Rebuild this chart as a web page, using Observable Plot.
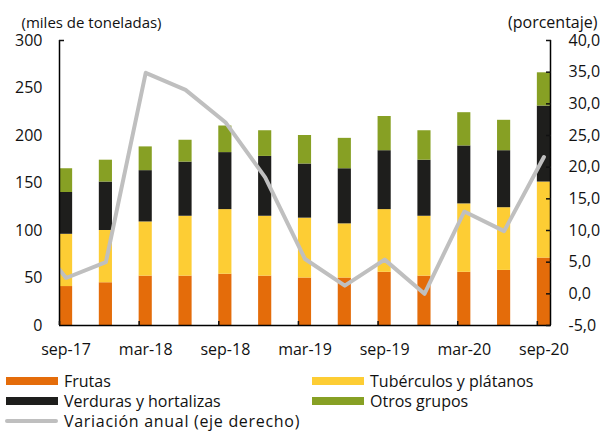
<!DOCTYPE html>
<html>
<head>
<meta charset="utf-8">
<script src="https://cdn.jsdelivr.net/npm/d3@7"></script>
<script src="https://cdn.jsdelivr.net/npm/@observablehq/plot@0.6"></script>
<style>
  body { margin: 0; background: #fff; font-family: "Open Sans", sans-serif; }
  #wrap { position: relative; width: 609px; height: 433px; overflow: hidden; }
  #legend { position: absolute; left: 0; top: 0; width: 609px; height: 433px; pointer-events: none; }
  .item { position: absolute; height: 18px; display: flex; align-items: center; font-size: 16px; line-height: 18px; color: #111; white-space: nowrap; }
  .sw { width: 52px; height: 8px; margin-right: 6px; }
  .ln { width: 53px; height: 4px; border-radius: 2px; margin-right: 6px; }
  .wide { letter-spacing: 0.7px; }
</style>
</head>
<body>
<div id="wrap"><div id="chart"></div><div id="legend"></div></div>
<script>
const periods = ["sep-17","dic-17","mar-18","jun-18","sep-18","dic-18","mar-19","jun-19","sep-19","dic-19","mar-20","jun-20","sep-20"];
const frutas     = [41, 45, 52, 52, 54, 52, 50, 50, 56, 52, 56, 58, 71];
const tuberculos = [55, 55, 57, 63, 68, 63, 63, 57, 66, 63, 72, 66, 80];
const verduras   = [44, 51, 54, 57, 60, 63, 57, 58, 62, 59, 61, 60, 80];
const otros      = [25, 23, 25, 23, 28, 27, 30, 32, 36, 31, 35, 32, 35];
// annual variation (%), first value (jun-17) lies outside the plotted window
const lineaPeriodos = ["jun-17", ...periods];
const variacion = [10.5, 2.5, 5.0, 34.9, 32.2, 27.1, 18.4, 5.5, 1.3, 5.4, 0.0, 13.0, 9.9, 21.6];
const leftTicks = [0, 50, 100, 150, 200, 250, 300];
const rightTicks = [-5, 0, 5, 10, 15, 20, 25, 30, 35, 40];
const labelPeriods = ["sep-17","mar-18","sep-18","mar-19","sep-19","mar-20","sep-20"];
const seriesNames = ["Frutas", "Tubérculos y plátanos", "Verduras y hortalizas", "Otros grupos"];
const seriesColors = ["#E46C0A", "#FDCD34", "#1E1E1C", "#87A024"];
const lineName = "Variación anual (eje derecho)";
const lineColor = "#BFBFBF";

const seriesValues = [frutas, tuberculos, verduras, otros];
const rows = [];
periods.forEach((p, i) => {
  let base = 0;
  seriesNames.forEach((s, k) => {
    const v = seriesValues[k][i];
    rows.push({i, p, serie: s, y1: base, y2: base + v});
    base += v;
  });
});

const half = 0.165;
const xDomain = [-half, periods.length - 1 + half];
const rMin = -5, rMax = 40, lMax = 300;
const toLeft = v => (v - rMin) * lMax / (rMax - rMin);
const fromLeft = y => y * (rMax - rMin) / lMax + rMin;
const fmt = v => (Math.round(v * 10) / 10).toFixed(1).replace(".", ",");
const lineData = lineaPeriodos.map((p, k) => ({i: k - 1, p, v: variacion[k]}));
const tickIdx = labelPeriods.map(p => periods.indexOf(p));

const chart = Plot.plot({
  width: 609, height: 365,
  marginLeft: 59, marginRight: 59, marginTop: 40, marginBottom: 40,
  style: {fontFamily: "Open Sans, sans-serif", fontSize: "16px", color: "#111", background: "#fff"},
  x: {type: "linear", domain: xDomain, label: null},
  y: {domain: [0, lMax], label: null},
  color: {domain: seriesNames, range: seriesColors},
  marks: [
    Plot.rectY(rows, {x1: d => d.i - half, x2: d => d.i + half, y1: "y1", y2: "y2", fill: "serie"}),
    Plot.line(lineData, {x: "i", y: d => toLeft(d.v), stroke: lineColor, strokeWidth: 4, clip: true}),
    Plot.ruleY([0], {stroke: "#000", strokeWidth: 1.5}),
    Plot.ruleX(xDomain, {y1: 0, y2: lMax, stroke: "#000", strokeWidth: 1.5}),
    Plot.axisY(leftTicks, {anchor: "left", label: null, tickSize: 0, tickPadding: 17, fontSize: 16}),
    Plot.axisY([lMax], {anchor: "left", label: null, tickSize: -5, strokeWidth: 1.5, tickFormat: () => ""}),
    Plot.axisY(rightTicks.map(toLeft), {anchor: "right", label: null, tickSize: -5, strokeWidth: 1.5, tickPadding: 23, fontSize: 16, tickFormat: y => fmt(fromLeft(y))}),
    Plot.axisX(tickIdx.map(i => i - half), {anchor: "bottom", label: null, tickSize: -4, strokeWidth: 1.5, tickFormat: () => ""}),
    Plot.axisX(tickIdx, {anchor: "bottom", label: null, tickSize: 0, tickPadding: 18, fontSize: 16, tickFormat: i => periods[i]}),
    Plot.text(["(miles de toneladas)"], {frameAnchor: "top-left", dx: -38, dy: -23, textAnchor: "start", fontSize: 15, fill: "#111"}),
    Plot.text(["(porcentaje)"], {frameAnchor: "top-right", dx: 47, dy: -24, textAnchor: "end", fontSize: 16, fill: "#111"})
  ]
});
document.getElementById("chart").appendChild(chart);

const legend = document.getElementById("legend");
const items = [
  {name: seriesNames[0], color: seriesColors[0], left: 6, top: 372, type: "sw"},
  {name: seriesNames[1], color: seriesColors[1], left: 312, top: 372, type: "sw"},
  {name: seriesNames[2], color: seriesColors[2], left: 6, top: 392, type: "sw"},
  {name: seriesNames[3], color: seriesColors[3], left: 312, top: 392, type: "sw"},
  {name: lineName, color: lineColor, left: 5, top: 412, type: "ln", wide: true}
];
items.forEach(it => {
  const d = document.createElement("div");
  d.className = "item";
  d.style.left = it.left + "px";
  d.style.top = it.top + "px";
  const s = document.createElement("span");
  s.className = it.type;
  s.style.background = it.color;
  d.appendChild(s);
  const t = document.createElement("span");
  t.textContent = it.name;
  if (it.wide) t.className = "wide";
  d.appendChild(t);
  legend.appendChild(d);
});
</script>
</body>
</html>
